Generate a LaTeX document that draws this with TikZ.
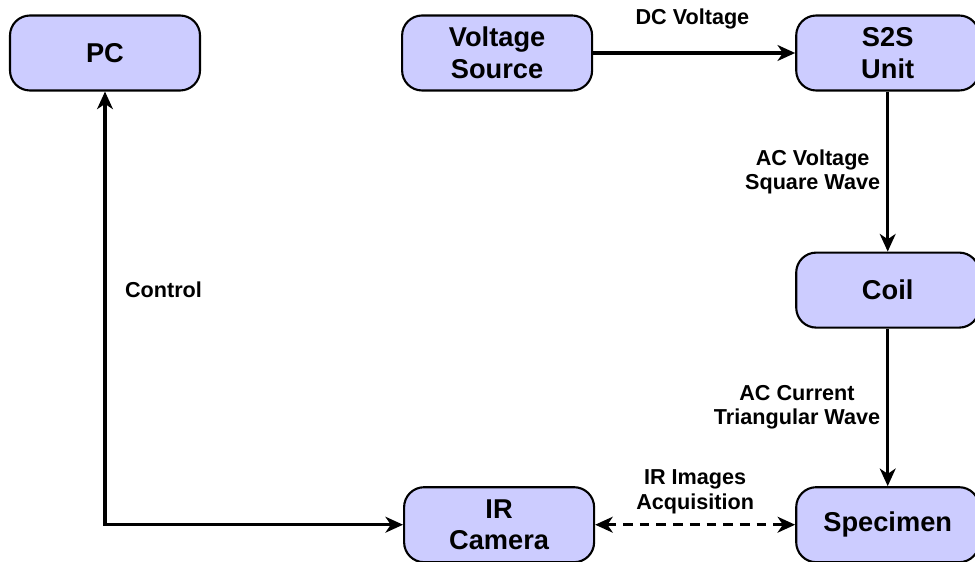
\documentclass[tikz,border=0pt]{standalone}
\usepackage{fontspec}
\setsansfont{Liberation Sans}
\usetikzlibrary{positioning, arrows.meta, calc}
\definecolor{bgBlock}{HTML}{CCCCFF}
\definecolor{lineMain}{HTML}{000000}
\tikzset{
  block/.style={draw=lineMain, fill=bgBlock, rounded corners=0.4cm,
    minimum width=3.8cm, minimum height=1.5cm, line width=1.2pt,
    font=\sffamily\bfseries\fontsize{15.5}{18}\selectfont, align=center},
  narrowblock/.style={block, minimum width=3.66cm},
  flowarrow/.style={-{Stealth[length=10pt, width=9pt, inset=3pt]}, line width=2pt, color=lineMain},
  bothflow/.style={{Stealth[length=10pt, width=9pt, inset=3pt]}-{Stealth[length=10pt, width=9pt, inset=3pt]}, line width=2pt, color=lineMain},
  edgelabel/.style={font=\sffamily\bfseries\fontsize{12.3}{13.8}\selectfont, align=center},
}

\begin{document}
\begin{tikzpicture}

  % === Frame ===
  \useasboundingbox (-2.1,1.06) rectangle (17.4,-10.18);

  % === Top row ===
  \node[block] (pc) at (0,0) {PC};
  \node[block, right=4cm of pc] (vsrc) {Voltage\\Source};
  \node[narrowblock, right=4.04cm of vsrc] (s2s) {S2S\\Unit};

  % === Right column ===
  \node[narrowblock, below=3.2cm of s2s] (coil) {Coil};
  \node[narrowblock, below=3.15cm of coil] (spec) {Specimen};

  % === Camera ===
  \node[block, left=4cm of spec] (ircam) {IR\\Camera};

  % === Arrows ===
  \draw[flowarrow] (vsrc) -- (s2s);
  \draw[flowarrow] (s2s) -- node[edgelabel, left] {AC Voltage\\Square Wave} (coil);
  \draw[flowarrow] (coil) -- node[edgelabel, left] {AC Current\\Triangular Wave} (spec);
  \draw[bothflow, dash pattern=on 5.5pt off 4pt] (ircam) -- node[edgelabel, above=2pt] {IR Images\\Acquisition} (spec);
  \draw[bothflow] (pc.south) |- node[edgelabel, pos=0.25, right=0.25cm, yshift=0.36cm] {Control} (ircam.west);

  % === Arrow labels ===
  \node[edgelabel] at ($(vsrc)!0.5!(s2s) + (0, 0.68)$) {DC Voltage};

\end{tikzpicture}
\end{document}
